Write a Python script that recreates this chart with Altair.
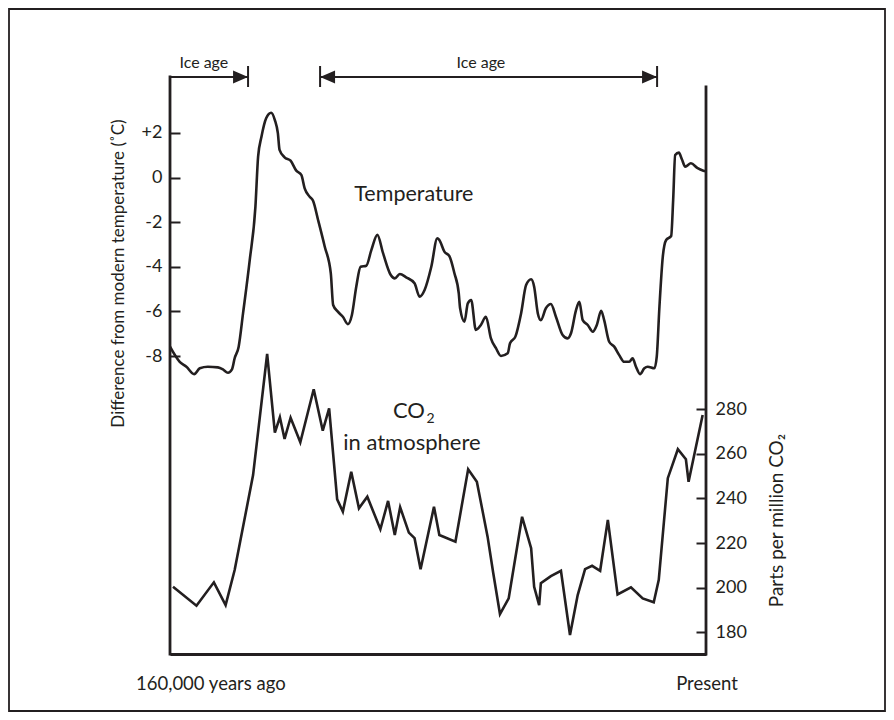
import altair as alt
import pandas as pd

# ---------------- data ----------------
# time axis: thousands of years before present (negative = past)
temp_kyr = [-160.0, -157.1, -155.1, -152.8, -151.1, -148.7, -145.7, -144.2, -142.7, -141.5,
            -140.7, -139.5, -138.2, -136.2, -134.5, -133.7, -132.7, -131.3, -129.8, -128.7,
            -127.8, -127.3, -125.8, -124.0, -122.3, -120.8, -119.8, -118.3, -117.3, -115.8,
            -113.8, -112.0, -111.3, -109.9, -108.4, -106.9, -105.7, -104.4, -103.1, -101.4,
            -99.9, -98.1, -96.4, -94.1, -92.9, -91.4, -89.5, -87.0, -85.5, -84.0,
            -82.0, -80.2, -79.6, -78.1, -76.6, -75.1, -73.8, -73.4, -72.1, -71.1,
            -70.1, -68.7, -67.2, -65.7, -64.2, -62.7, -61.2, -59.2, -58.5, -56.9,
            -55.2, -53.7, -52.2, -51.3, -50.2, -49.3, -47.8, -46.3, -44.8, -42.8,
            -41.3, -40.3, -38.8, -37.8, -36.8, -35.3, -33.8, -32.6, -31.3, -30.4,
            -28.9, -27.4, -25.9, -24.4, -22.9, -21.9, -20.9, -19.7, -18.4, -17.4,
            -15.4, -14.7, -13.9, -12.9, -11.9, -10.4, -9.8, -9.2, -8.1, -7.2,
            -6.2, -4.5, -2.5, -0.8, 0.0]
temp_deg = [-7.58, -8.26, -8.48, -8.81, -8.55, -8.48, -8.51, -8.60, -8.75, -8.60,
            -8.10, -7.58, -6.09, -3.70, -1.30, 0.94, 1.83, 2.66, 2.91, 2.58,
            1.99, 1.24, 0.91, 0.76, 0.31, 0.12, -0.48, -0.86, -1.04, -1.90,
            -3.10, -4.29, -5.71, -6.01, -6.24, -6.57, -6.16, -4.89, -4.00, -3.95,
            -3.25, -2.57, -3.39, -4.37, -4.52, -4.32, -4.47, -4.74, -5.34, -5.04,
            -4.00, -2.72, -2.80, -3.32, -3.52, -4.29, -5.19, -5.86, -6.46, -5.64,
            -5.49, -6.83, -6.61, -6.24, -7.21, -7.65, -8.00, -7.88, -7.43, -7.13,
            -6.09, -4.82, -4.56, -4.89, -6.09, -6.39, -5.86, -5.67, -6.24, -7.06,
            -7.21, -6.98, -5.94, -5.57, -6.39, -6.61, -6.91, -6.61, -5.97, -6.39,
            -7.36, -7.58, -7.96, -8.26, -8.26, -8.10, -8.48, -8.81, -8.55, -8.48,
            -8.55, -8.03, -5.79, -3.55, -2.80, -2.62, -1.00, 1.01, 1.12, 0.82,
            0.49, 0.64, 0.42, 0.31, 0.28]

co2_kyr = [-159.1, -152.1, -146.9, -143.4, -140.7, -135.2, -131.0, -128.7, -127.2, -125.8,
           -124.0, -121.1, -117.1, -114.4, -112.5, -110.1, -108.4, -105.9, -103.6, -101.1,
           -97.2, -94.9, -92.9, -91.3, -88.7, -87.0, -85.2, -81.2, -79.6, -74.8,
           -71.0, -68.4, -65.2, -63.5, -61.5, -58.9, -54.9, -52.2, -51.3, -49.8,
           -49.3, -46.3, -43.3, -40.6, -38.3, -36.1, -34.0, -31.6, -29.3, -26.4,
           -22.4, -18.9, -15.6, -14.1, -11.4, -8.4, -6.0, -5.2, -1.0]
co2_ppm = [200.4, 191.9, 202.4, 192.2, 207.9, 250.5, 304.8, 269.5, 276.4, 266.7,
           276.2, 265.2, 289.0, 270.4, 280.4, 239.6, 234.1, 252.0, 235.6, 240.8,
           226.2, 238.9, 223.6, 236.1, 224.7, 222.2, 208.3, 236.3, 223.6, 220.6,
           253.1, 247.5, 222.9, 206.5, 188.2, 195.2, 231.8, 217.7, 200.4, 192.2,
           202.0, 205.2, 207.6, 178.8, 196.7, 208.3, 209.8, 207.6, 230.4, 197.0,
           200.2, 195.2, 193.5, 203.5, 249.1, 262.1, 257.6, 247.5, 277.4]

temp_ticks = [-8, -6, -4, -2, 0, 2]
co2_ticks = [180, 200, 220, 240, 260, 280]

time_domain = [-160, 0]
temp_domain = [-21.36, 4.51]
co2_domain = [170.27, 429.0]

# ice-age interval arrows
ice_start = [-160.0, -115.2]
ice_end = [-136.7, -14.6]
ice_label_kyr = [-149.9, -67.2]
ice_label = ["Ice age", "Ice age"]
bar_kyr = [-136.7, -115.2, -14.6]
head_right_kyr = [-136.7, -14.6]
head_left_kyr = [-115.2]

# in-plot labels
temp_label = ["Temperature"]
temp_label_kyr = [-87.2]
temp_label_deg = [-0.78]
co2_main_label = ["CO"]
co2_sub_label = ["2"]
co2_main_kyr = [-83.9]          # right edge of "CO"
co2_main_ppm = [279.2]
atm_label = ["in atmosphere"]
atm_kyr = [-87.8]
atm_ppm = [264.9]

end_label = ["160,000 years ago", "Present"]
end_label_kyr = [-160, 0]

# ---------------- style ----------------
W, H = 536, 577
INK = "#231f20"
FONT = "Lato"

xs = alt.Scale(domain=time_domain, nice=False, zero=False)
ts = alt.Scale(domain=temp_domain, nice=False, zero=False)
cs = alt.Scale(domain=co2_domain, nice=False, zero=False)

x_axis = alt.Axis(orient="bottom", domain=True, domainColor=INK, domainWidth=2.8,
                  ticks=False, labels=False, grid=False, title=None)

t_axis = alt.Axis(orient="left", values=temp_ticks, offset=-10, tickSize=10,
                  tickWidth=2, tickColor=INK, domain=False, grid=False,
                  labelExpr="datum.value > 0 ? '+' + datum.value : '' + datum.value",
                  labelFont=FONT, labelFontSize=18, labelColor=INK, labelPadding=8,
                  title="Difference from modern temperature (\u02daC)",
                  titleFont=FONT, titleFontSize=17, titleFontWeight="normal",
                  titleColor=INK, titleAngle=270, titleX=-62, titleY=196,
                  titleAlign="center", titleBaseline="middle")

c_axis = alt.Axis(orient="right", values=co2_ticks, offset=-10, tickSize=10,
                  tickWidth=2, tickColor=INK, domain=False, grid=False,
                  labelFont=FONT, labelFontSize=18, labelColor=INK, labelPadding=9,
                  title="Parts per million CO\u2082",
                  titleFont=FONT, titleFontSize=19, titleFontWeight="normal",
                  titleColor=INK, titleAngle=270, titleX=80, titleY=443,
                  titleAlign="center", titleBaseline="middle")


def X(field="kyr"):
    return alt.X(f"{field}:Q", scale=xs, axis=x_axis, title=None)


def YT(field="deg"):
    return alt.Y(f"{field}:Q", scale=ts, axis=t_axis)


def YC(field="ppm"):
    return alt.Y(f"{field}:Q", scale=cs, axis=c_axis)


# ---------------- temperature group ----------------
temp_df = pd.DataFrame({"kyr": temp_kyr, "deg": temp_deg})
temp_line = alt.Chart(temp_df).mark_line(
    color=INK, strokeWidth=2.6, interpolate="monotone", strokeJoin="round"
).encode(x=X(), y=YT())

temp_lab_df = pd.DataFrame({"kyr": temp_label_kyr, "deg": temp_label_deg, "label": temp_label})
temp_text = alt.Chart(temp_lab_df).mark_text(
    font=FONT, fontSize=21.5, color=INK, align="center", baseline="middle"
).encode(x=X(), y=YT(), text="label:N")

temp_group = alt.layer(temp_line, temp_text)

# ---------------- CO2 group ----------------
co2_df = pd.DataFrame({"kyr": co2_kyr, "ppm": co2_ppm})
co2_line = alt.Chart(co2_df).mark_line(
    color=INK, strokeWidth=2.6, strokeJoin="miter"
).encode(x=X(), y=YC())

co_df = pd.DataFrame({"kyr": co2_main_kyr, "ppm": co2_main_ppm,
                      "main": co2_main_label, "sub": co2_sub_label})
co_text = alt.Chart(co_df).mark_text(
    font=FONT, fontSize=22, color=INK, align="right", baseline="middle"
).encode(x=X(), y=YC(), text="main:N")
co_sub = alt.Chart(co_df).mark_text(
    font=FONT, fontSize=14, color=INK, align="left", baseline="middle", dx=1.5, dy=8
).encode(x=X(), y=YC(), text="sub:N")

atm_df = pd.DataFrame({"kyr": atm_kyr, "ppm": atm_ppm, "label": atm_label})
atm_text = alt.Chart(atm_df).mark_text(
    font=FONT, fontSize=22, color=INK, align="center", baseline="middle"
).encode(x=X(), y=YC(), text="label:N")

co2_group = alt.layer(co2_line, co_text, co_sub, atm_text)

# ---------------- decorations ----------------
frame = alt.Chart(pd.DataFrame({"kyr": [0]})).mark_rect(
    fillOpacity=0, stroke=INK, strokeWidth=1.8
).encode(x=alt.value(-161), x2=alt.value(W + 179), y=alt.value(-68), y2=alt.value(H + 57))

left_line = alt.Chart(pd.DataFrame({"kyr": [time_domain[0]]})).mark_rule(
    color=INK, strokeWidth=2.8, strokeCap="square"
).encode(x=X(), y=alt.value(0), y2=alt.value(H))

right_line = alt.Chart(pd.DataFrame({"kyr": [time_domain[1]]})).mark_rule(
    color=INK, strokeWidth=2.8, strokeCap="square"
).encode(x=X(), y=alt.value(10), y2=alt.value(H))

ice_df = pd.DataFrame({"kyr": ice_start, "end": ice_end})
ice_lines = alt.Chart(ice_df).mark_rule(color=INK, strokeWidth=2).encode(
    x=X(), x2=alt.X2("end:Q"), y=alt.value(0))

bars = alt.Chart(pd.DataFrame({"kyr": bar_kyr})).mark_rule(color=INK, strokeWidth=2).encode(
    x=X(), y=alt.value(-11), y2=alt.value(10))

heads_r = alt.Chart(pd.DataFrame({"kyr": head_right_kyr})).mark_point(
    shape="M0,0 L-2,-0.88 L-2,0.88 Z", size=225, filled=True, opacity=1,
    color=INK, strokeWidth=0
).encode(x=X(), y=alt.value(0))

heads_l = alt.Chart(pd.DataFrame({"kyr": head_left_kyr})).mark_point(
    shape="M0,0 L2,-0.88 L2,0.88 Z", size=225, filled=True, opacity=1,
    color=INK, strokeWidth=0
).encode(x=X(), y=alt.value(0))

ice_text = alt.Chart(pd.DataFrame({"kyr": ice_label_kyr, "label": ice_label})).mark_text(
    font=FONT, fontSize=16, color=INK, align="center", baseline="alphabetic"
).encode(x=X(), y=alt.value(-9), text="label:N")

end_left = alt.Chart(pd.DataFrame({"kyr": [end_label_kyr[0]], "label": [end_label[0]]})).mark_text(
    font=FONT, fontSize=18.5, color=INK, align="left", baseline="middle", dx=-34
).encode(x=X(), y=alt.value(H + 30), text="label:N")

end_right = alt.Chart(pd.DataFrame({"kyr": [end_label_kyr[1]], "label": [end_label[1]]})).mark_text(
    font=FONT, fontSize=18.5, color=INK, align="center", baseline="middle", dx=1
).encode(x=X(), y=alt.value(H + 30), text="label:N")

chart = alt.layer(
    temp_group, co2_group, frame, left_line, right_line, ice_lines, bars,
    heads_r, heads_l, ice_text, end_left, end_right
).resolve_scale(y="independent").properties(
    width=W, height=H,
    padding={"left": 162, "top": 69, "right": 180, "bottom": 58},
    autosize=alt.AutoSizeParams(type="none"),
    background="white",
).configure_view(stroke=None)

chart.save("out.html", embed_options={"renderer": "svg", "actions": False})
